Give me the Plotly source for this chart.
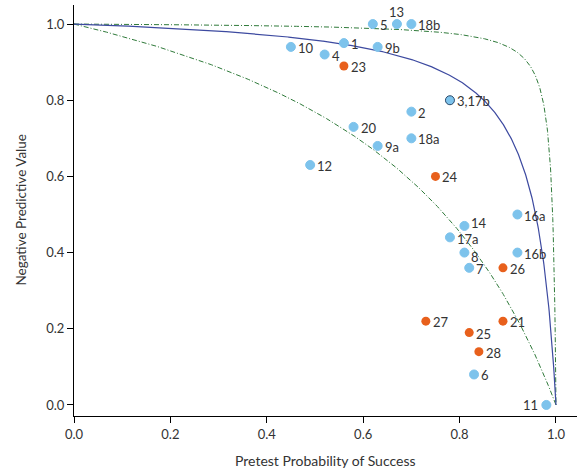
import numpy as np
import plotly.graph_objects as go

# Study points: pretest probability of success vs. negative predictive value
blue_labels = ["1", "2", "3,17b", "4", "5", "6", "7", "8", "9a", "9b", "10", "11",
               "12", "13", "14", "16a", "16b", "17a", "18a", "18b", "20"]
blue_x = [0.56, 0.70, 0.78, 0.52, 0.62, 0.83, 0.82, 0.81, 0.63, 0.63, 0.45, 0.98,
          0.49, 0.67, 0.81, 0.92, 0.92, 0.78, 0.70, 0.70, 0.58]
blue_y = [0.95, 0.77, 0.80, 0.92, 1.00, 0.08, 0.36, 0.40, 0.68, 0.94, 0.94, 0.00,
          0.63, 1.00, 0.47, 0.50, 0.40, 0.44, 0.70, 1.00, 0.73]

orange_labels = ["21", "23", "24", "25", "26", "27", "28"]
orange_x = [0.89, 0.56, 0.75, 0.82, 0.89, 0.73, 0.84]
orange_y = [0.22, 0.89, 0.60, 0.19, 0.36, 0.22, 0.14]

# Negative likelihood ratios of the reference iso-curves
lr_mid = 0.044
lr_outer = 0.007
lr_inner = 0.30

BLUE_PT = "#7dc3ec"
ORANGE_PT = "#e8601c"
CURVE_BLUE = "#3d4aa0"
CURVE_GREEN = "#2f7a3a"
TXT = "#333333"
FONT = "Lato"

p = np.linspace(0, 1, 1201)


def npv(lr):
    return (1 - p) / ((1 - p) + lr * p)


fig = go.Figure()

dashdot = "5px,2px,1px,2px"
fig.add_trace(go.Scatter(x=p, y=npv(lr_outer), mode="lines",
                         line=dict(color=CURVE_GREEN, width=1, dash=dashdot),
                         hoverinfo="skip", showlegend=False))
fig.add_trace(go.Scatter(x=p, y=npv(lr_inner), mode="lines",
                         line=dict(color=CURVE_GREEN, width=1, dash=dashdot),
                         hoverinfo="skip", showlegend=False))
fig.add_trace(go.Scatter(x=p, y=npv(lr_mid), mode="lines",
                         line=dict(color=CURVE_BLUE, width=1.2),
                         hoverinfo="skip", showlegend=False))

blue_line = ["#2b4a6a" if l == "3,17b" else BLUE_PT for l in blue_labels]
fig.add_trace(go.Scatter(
    x=blue_x, y=blue_y, mode="markers",
    marker=dict(color=BLUE_PT, size=9, line=dict(color=blue_line, width=1)),
    showlegend=False))
fig.add_trace(go.Scatter(
    x=orange_x, y=orange_y, mode="markers",
    marker=dict(color=ORANGE_PT, size=9, line=dict(width=0)),
    showlegend=False))

# Point labels: right of the marker by default, a few placed above / left
label_font = dict(family=FONT, size=13, color=TXT)
nudges = {"13": (0, 12, "center"), "11": (-7, 0, "right"),
          "14": (6, 3, "left"), "17a": (6, -2, "left"), "8": (6, -4, "left")}
for labs, xs, ys in ((blue_labels, blue_x, blue_y), (orange_labels, orange_x, orange_y)):
    for lab, xv, yv in zip(labs, xs, ys):
        dx, dy, anchor = nudges.get(lab, (6, -1, "left"))
        fig.add_annotation(x=xv, y=yv, text=lab, showarrow=False, xanchor=anchor,
                           yanchor="middle", xshift=dx, yshift=dy, borderpad=0,
                           font=label_font)

# Axis titles
fig.add_annotation(x=0.5, y=0, xref="paper", yref="paper", yshift=-44,
                   text="Pretest Probability of Success", showarrow=False,
                   xanchor="center", yanchor="middle",
                   font=dict(family=FONT, size=14, color=TXT))
fig.add_annotation(x=0, y=0.5, xref="paper", yref="paper", xshift=-54,
                   text="Negative Predictive Value", showarrow=False, textangle=-90,
                   xanchor="center", yanchor="middle",
                   font=dict(family=FONT, size=13.5, color=TXT))

axis_common = dict(showline=True, linecolor="black", linewidth=1, ticks="outside",
                   ticklen=6, tickcolor="black", showgrid=False, zeroline=False,
                   tickfont=dict(family=FONT, size=13, color=TXT), tickformat=".1f")

fig.update_layout(
    width=577, height=468,
    margin=dict(l=74, r=0, t=5, b=52),
    plot_bgcolor="white", paper_bgcolor="white",
    font=dict(family=FONT, color=TXT),
    xaxis=dict(range=[0, 1.0436], tickvals=[0, 0.2, 0.4, 0.6, 0.8, 1.0], **axis_common),
    yaxis=dict(range=[-0.029, 1.05], tickvals=[0, 0.2, 0.4, 0.6, 0.8, 1.0], **axis_common),
)

fig.write_html("out.html")
